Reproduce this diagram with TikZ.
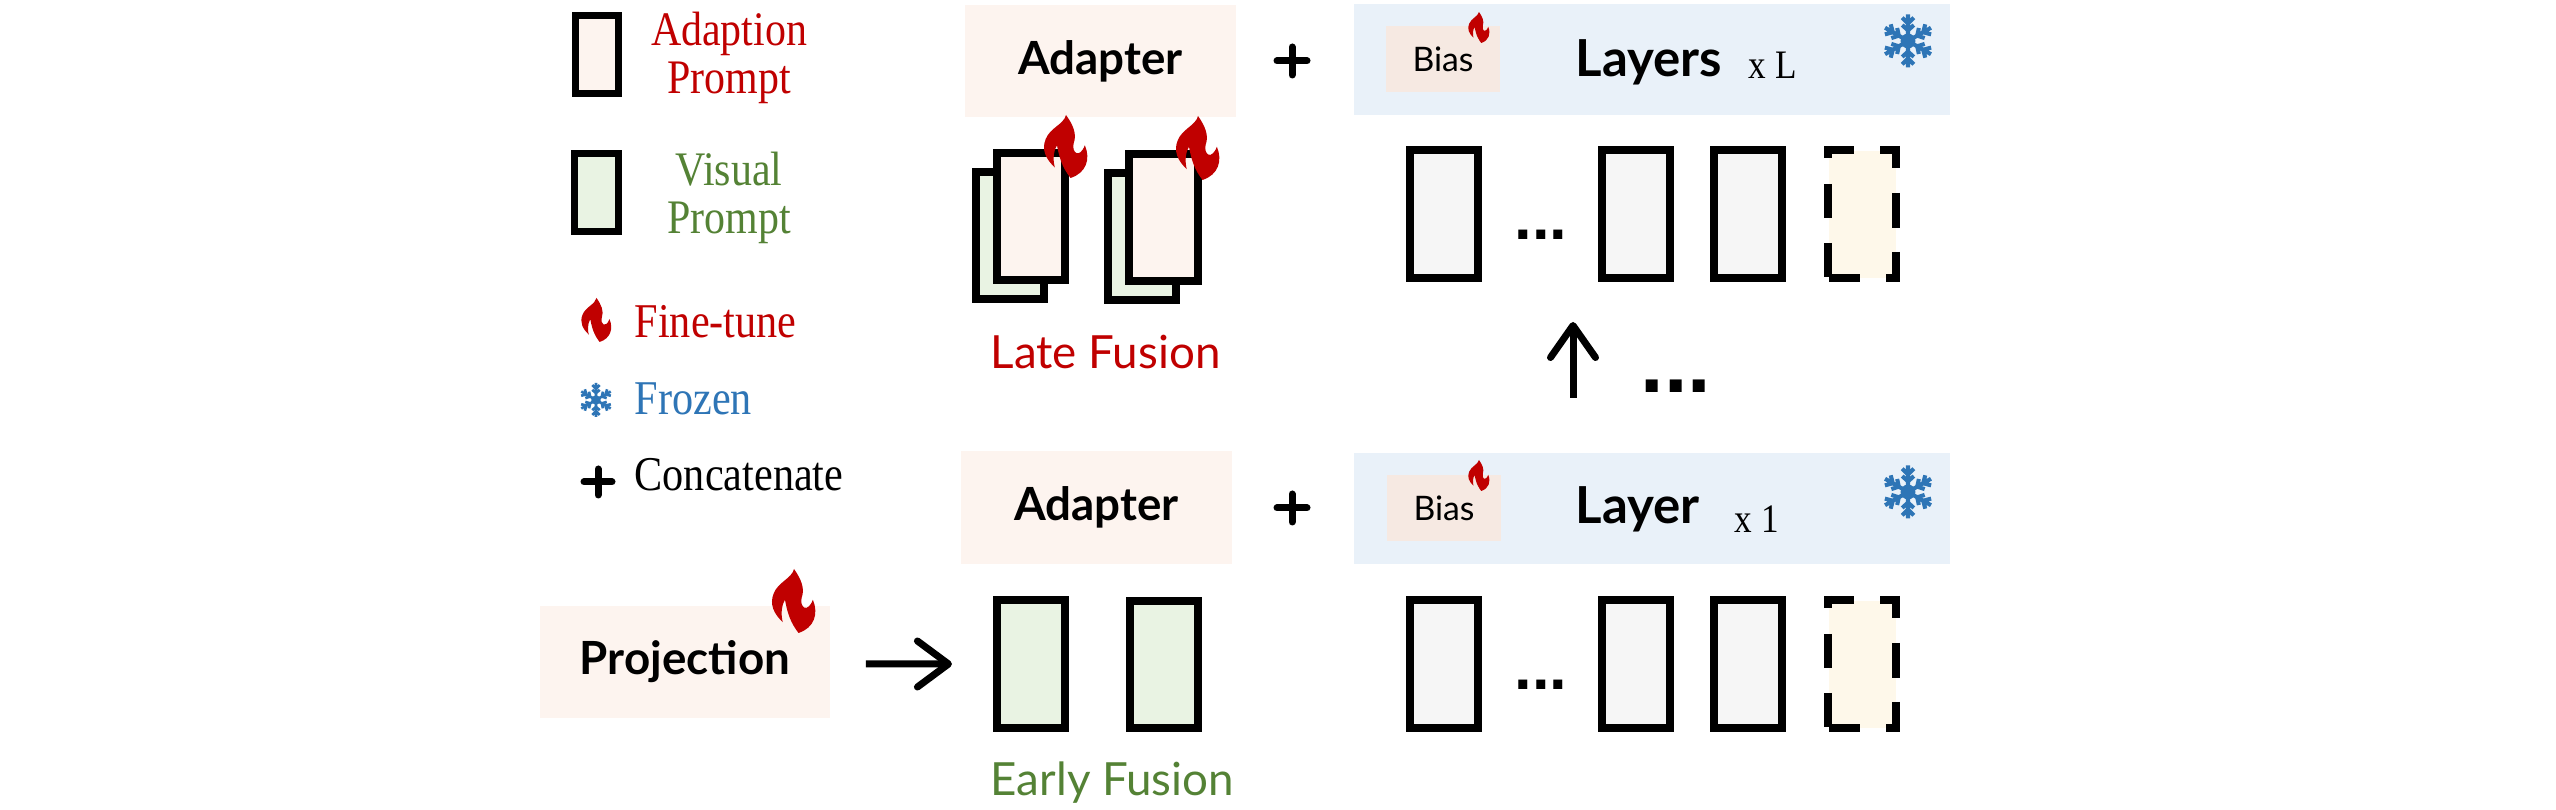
\documentclass[tikz,border=0pt]{standalone}
\usepackage{fontspec}
\setmainfont{Liberation Serif}
\newfontfamily\keyfont[FakeStretch=0.87]{Liberation Serif}
\newfontfamily\handfont{Lato}
\newfontfamily\dotfont{Liberation Sans}
\usetikzlibrary{arrows.meta,positioning}
\definecolor{Warm}{HTML}{FDF4EF}
\definecolor{Sage}{HTML}{E9F3E3}
\definecolor{Sky}{HTML}{E9F1F9}
\definecolor{Tan}{HTML}{F6E9E2}
\definecolor{Mist}{HTML}{F6F6F6}
\definecolor{Cream}{HTML}{FEF8EA}
\definecolor{Flame}{HTML}{C00000}
\definecolor{Moss}{HTML}{548235}
\definecolor{Frost}{HTML}{2E75B6}

\tikzset{
  flame/.pic={
    \fill[Flame] (0,-.5) .. controls (.15,-.35) and (.25,-.2) .. (.17,-.05)
      .. controls (.12,.1) and (.3,.2) .. (.42,-.02)
      .. controls (.55,.2) and (.45,.42) .. (.1,.5)
      .. controls (0,.4) and (-.12,.3) .. (-.2,-.02)
      .. controls (-.3,.1) and (-.28,.25) .. (-.25,.33)
      .. controls (-.45,.2) and (-.55,.05) .. (-.45,-.12)
      .. controls (-.35,-.3) and (-.05,-.35) .. (0,-.5) -- cycle;
  },
  snowflake/.pic={
    \fill[Frost] (0,0) circle (.14);
    \foreach \a in {30,90,...,330}{
      \draw[Frost,line width=#1,rotate=\a] (0,0)--(.5,0)
        (.2,0)--(.3,.11) (.2,0)--(.3,-.11) (.33,0)--(.44,.11) (.33,0)--(.44,-.11);
    }
  },
  plussign/.pic={
    \draw[black,line width=#1,line cap=round] (-.5,0)--(.5,0) (0,-.5)--(0,.5);
  }
}

\begin{document}
\begin{tikzpicture}[
  x=0.01cm,y=-0.01cm,
  legendbox/.style={rectangle,draw=black,line width=0.07cm,minimum width=0.43cm,minimum height=0.78cm,inner sep=0pt},
  promptbox/.style={rectangle,draw=black,line width=0.08cm,minimum width=0.68cm,minimum height=1.27cm,inner sep=0pt},
  adapterbox/.style={rectangle,fill=Warm,minimum width=2.71cm,minimum height=1.12cm,inner sep=0pt},
  layerbox/.style={rectangle,fill=Sky,minimum width=5.96cm,minimum height=1.11cm,inner sep=0pt},
  biasbox/.style={rectangle,fill=Tan,minimum width=1.14cm,minimum height=0.66cm,inner sep=0pt,font=\handfont\fontsize{9.6}{11}\selectfont},
  gapbox/.style={rectangle,fill=Cream,minimum width=0.67cm,minimum height=1.27cm,inner sep=0pt},
  gapline/.style={draw=black,line width=0.08cm},
  handtext/.style={font=\handfont\bfseries\fontsize{13}{15}\selectfont,text=black},
  legendtext/.style={font=\keyfont\fontsize{13.7}{13.7}\selectfont,align=center,inner sep=0pt},
  sidetext/.style={font=\keyfont\fontsize{13.8}{14}\selectfont,anchor=base west,inner sep=0pt},
  fusiontext/.style={font=\handfont\fontsize{13}{15}\selectfont,anchor=base west,inner sep=0pt},
  counttext/.style={font=\keyfont\fontsize{11.5}{12}\selectfont,anchor=base west,inner sep=0pt},
  flow/.style={draw=black,line width=0.07cm,-{Straight Barb[round,length=0.31cm,width=0.46cm]}}
]
\useasboundingbox (0,0) rectangle (2556,810);
\fill[white] (0,0) rectangle (2556,810);

% legend
\node[legendbox,fill=Warm] (keyadapt) at (597,54.5) {};
\node[legendbox,fill=Sage] (keyvisual) at (596.5,192.5) {};
\node[legendtext,text=Flame] (keyadapttext) at (729,58) {Adaption\\Prompt};
\node[legendtext,text=Moss] (keyvisualtext) at (729,198) {Visual\\Prompt};
\pic[xscale=31,yscale=44] at (596.5,320) {flame};
\node[sidetext,text=Flame] (keytune) at (634,338) {Fine-tune};
\pic[scale=34] at (596,400) {snowflake=0.75pt};
\node[sidetext,text=Frost] (keyfrozen) at (634,415) {Frozen};
\pic[xscale=28,yscale=26] at (598,482) {plussign=0.07cm};
\node[sidetext,text=black] (keyconcat) at (634,491) {Concatenate};

% late fusion row
\node[adapterbox,handtext] (adapterlate) at (1100.5,61) {Adapter};
\pic[xscale=30,yscale=28] at (1292,61) {plussign=0.07cm};
\node[layerbox] (layerslate) at (1652,59.5) {};
\node[biasbox] (biaslate) at (1443,59) {Bias};
\pic[xscale=22,yscale=31] at (1479,27.5) {flame};
\node[handtext,font=\handfont\bfseries\fontsize{14.5}{16}\selectfont,anchor=base west,inner sep=0pt] (layerslatetext) at (1575,77) {Layers};
\node[counttext] (countlate) at (1748,79) {x L};
\pic[scale=53] at (1908,41) {snowflake=1.15pt};

\node[promptbox,fill=Sage] (visual1) at (1010,235.5) {};
\node[promptbox,fill=Warm] (adapt1) at (1031,216.5) {};
\node[promptbox,fill=Sage] (visual2) at (1142,236.5) {};
\node[promptbox,fill=Warm] (adapt2) at (1163.5,217.5) {};
\pic[xscale=45,yscale=63] at (1066,146.5) {flame};
\pic[xscale=45,yscale=64] at (1198,148) {flame};
\node[fusiontext,text=Flame] (latetext) at (990,369) {Late Fusion};

\node[promptbox,fill=Mist] (toplayer1) at (1444,214) {};
\node[font=\dotfont\bfseries\fontsize{18}{20}\selectfont,inner sep=0pt,anchor=base] (topdots) at (1541,240) {...};
\node[promptbox,fill=Mist] (toplayer2) at (1636,214) {};
\node[promptbox,fill=Mist] (toplayer3) at (1748,214) {};
\node[gapbox] (topgap) at (1862.5,214.5) {};

% step between the two rows
\coordinate (upfoot) at (1573,398);
\coordinate (uphead) at (1573,322);
\draw[flow,-{Straight Barb[round,length=0.32cm,width=0.45cm]}] (upfoot) -- (uphead);
\node[font=\dotfont\bfseries\fontsize{24}{26}\selectfont,inner sep=0pt,anchor=base] (stepdots) at (1676,393) {...};

% early fusion row
\node[adapterbox,handtext] (adapterearly) at (1096.5,507.5) {Adapter};
\pic[xscale=30,yscale=28] at (1292,508) {plussign=0.07cm};
\node[layerbox] (layersearly) at (1652,508.5) {};
\node[biasbox] (biasearly) at (1444,508) {Bias};
\pic[xscale=22,yscale=31] at (1479,475.5) {flame};
\node[handtext,font=\handfont\bfseries\fontsize{14.5}{16}\selectfont,anchor=base west,inner sep=0pt] (layersearlytext) at (1575,524) {Layer};
\node[counttext] (countearly) at (1734,533) {x 1};
\pic[scale=53] at (1908,492) {snowflake=1.15pt};

\node[adapterbox,handtext,minimum width=2.90cm] (projection) at (685,662) {Projection};
\pic[xscale=45,yscale=64] at (794,601) {flame};
\node[promptbox,fill=Sage] (early1) at (1031,664) {};
\node[promptbox,fill=Sage] (early2) at (1164,664.5) {};
\draw[flow,shorten <=0.35cm,shorten >=0.41cm] ([yshift=-0.02cm]projection.east) -- (early1.west);
\node[fusiontext,text=Moss] (earlytext) at (990,796) {Early Fusion};

\node[promptbox,fill=Mist] (botlayer1) at (1444,664) {};
\node[font=\dotfont\bfseries\fontsize{18}{20}\selectfont,inner sep=0pt,anchor=base] (botdots) at (1541,690) {...};
\node[promptbox,fill=Mist] (botlayer2) at (1636,664) {};
\node[promptbox,fill=Mist] (botlayer3) at (1748,664) {};
\node[gapbox] (botgap) at (1862.5,664.5) {};

\foreach \dy in {0,450}{
  \draw[gapline,shift={(0,\dy)}] (1824,150)--(1854,150) (1880,150)--(1900,150)
    (1896,146)--(1896,168) (1896,193)--(1896,228) (1896,252)--(1896,282)
    (1828,146)--(1828,158) (1828,184)--(1828,218) (1828,243)--(1828,277)
    (1829,278)--(1860,278) (1886,278)--(1900,278);
}
\end{tikzpicture}
\end{document}
